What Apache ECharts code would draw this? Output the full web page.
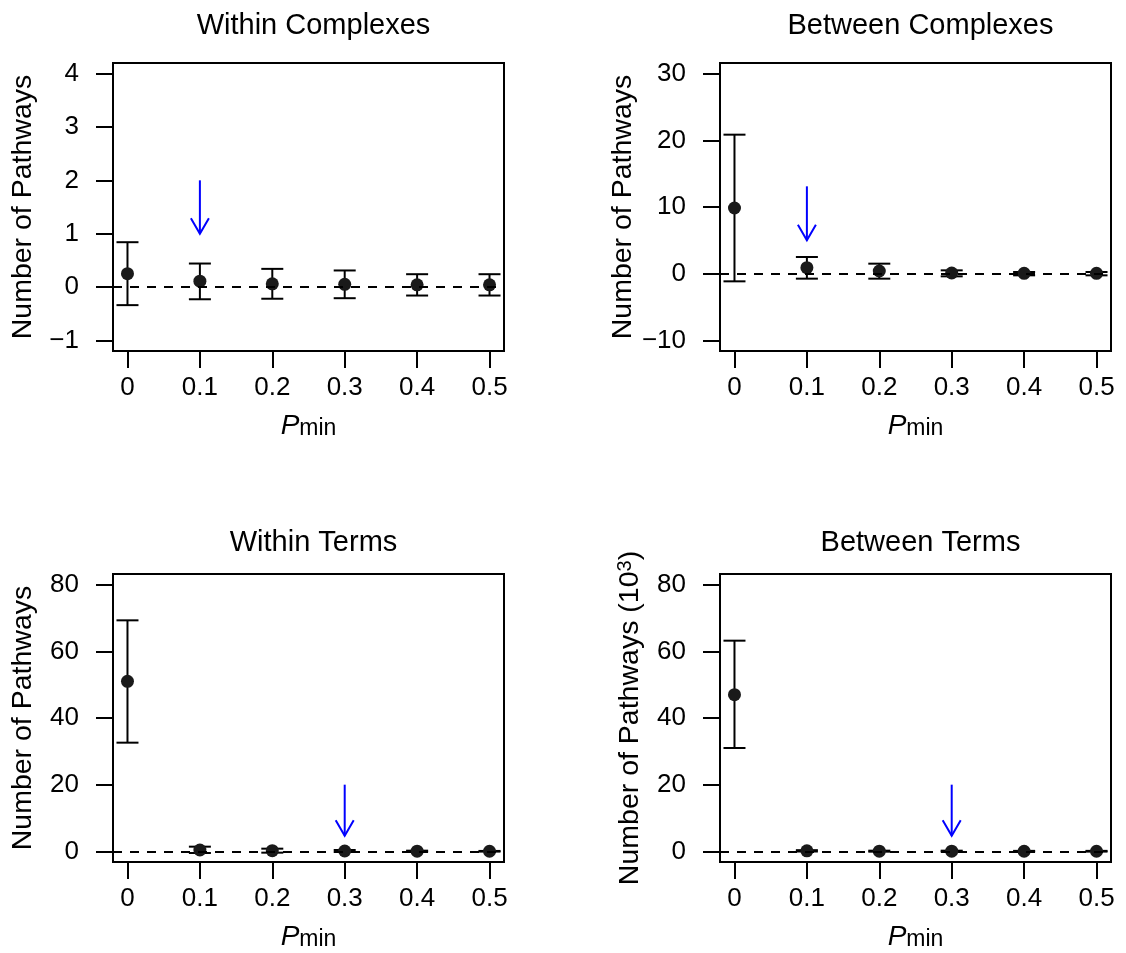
<!DOCTYPE html>
<html>
<head>
<meta charset="utf-8">
<script src="https://cdn.jsdelivr.net/npm/echarts@6/dist/echarts.min.js"></script>
<style>
html,body{margin:0;padding:0;background:#fff;}
#main{width:1126px;height:953px;}
</style>
</head>
<body>
<div id="main"></div>
<script>
// data
var pmin=[0,0.1,0.2,0.3,0.4,0.5];
var titles=['Within Complexes','Between Complexes','Within Terms','Between Terms'];

var wcMean=[0.25,0.11,0.06,0.05,0.04,0.04];
var wcLow=[-0.34,-0.23,-0.22,-0.21,-0.16,-0.16];
var wcHigh=[0.84,0.44,0.34,0.31,0.24,0.24];

var bcMean=[9.85,0.9,0.4,0.1,0.05,0.05];
var bcLow=[-1.15,-0.75,-0.75,-0.4,-0.25,-0.25];
var bcHigh=[20.85,2.5,1.5,0.5,0.25,0.25];

var wtMean=[51.0,0.4,0.2,0.1,0.05,0.02];
var wtLow=[32.6,-0.5,-0.4,-0.2,-0.1,-0.08];
var wtHigh=[69.3,1.4,0.8,0.4,0.2,0.12];

var btMean=[47.0,0.15,0.05,0.05,0.03,0.03];
var btLow=[31.0,-0.05,-0.1,-0.1,-0.08,-0.08];
var btHigh=[63.2,0.35,0.2,0.2,0.14,0.14];

// y ticks + y range per panel
var yTicks=[[-1,0,1,2,3,4],[-10,0,10,20,30],[0,20,40,60,80],[0,20,40,60,80]];
var yRange=[[-1.2,4.2],[-11.6,31.6],[-3.2,83.2],[-3.2,83.2]];

// blue arrows: [x, from, to]
var arrows=[[0.1,2.0,1.0],[0.1,13.1,5.0],[0.3,20,4.7],[0.3,20,4.7]];

var means=[wcMean,bcMean,wtMean,btMean];
var lows=[wcLow,bcLow,wtLow,btLow];
var highs=[wcHigh,bcHigh,wtHigh,btHigh];

var FONT='"Liberation Sans", Arial, Helvetica, sans-serif';
var boxes=[[113,63],[720,63],[113,574],[720,574]];
var titleOff=[-57,-57,-51,-51];
var BW=391,BH=288;

var myChart=echarts.init(document.getElementById('main'));

function minus(v){
	return v<0?'\u2212'+(-v):''+v;
}

function errRender(params,api){
	var x=api.value(0);
	var lo=api.coord([x,api.value(1)]);
	var hi=api.coord([x,api.value(2)]);
	var st={stroke:'#000',lineWidth:2};
	return {type:'group',children:[
		{type:'line',shape:{x1:hi[0],y1:hi[1],x2:lo[0],y2:lo[1]},style:st},
		{type:'line',shape:{x1:hi[0]-11,y1:hi[1],x2:hi[0]+11,y2:hi[1]},style:st},
		{type:'line',shape:{x1:lo[0]-11,y1:lo[1],x2:lo[0]+11,y2:lo[1]},style:st}
	]};
}

function arrowRender(params,api){
	var x=api.value(0);
	var a=api.coord([x,api.value(1)]);
	var b=api.coord([x,api.value(2)]);
	var st={stroke:'#0000ff',lineWidth:2,fill:null};
	return {type:'group',children:[
		{type:'line',shape:{x1:a[0],y1:a[1],x2:b[0],y2:b[1]},style:st},
		{type:'polyline',shape:{points:[[b[0]-9,b[1]-15.5],[b[0],b[1]],[b[0]+9,b[1]-15.5]]},style:st}
	]};
}

var grid=[],xAxis=[],yAxis=[],series=[],title=[];
for(var i=0;i<4;i++){
	var bx=boxes[i];
	grid.push({left:bx[0],top:bx[1],width:BW,height:BH,show:true,borderColor:'#000',borderWidth:2,backgroundColor:'transparent'});
	title.push({text:titles[i],left:bx[0]+BW/2,textAlign:'center',top:bx[1]+titleOff[i],
		textStyle:{fontFamily:FONT,fontSize:29,fontWeight:'normal',color:'#000'}});
	xAxis.push({type:'value',gridIndex:i,min:-0.02,max:0.52,
		name:'{p|P}{m|min}',nameLocation:'middle',nameGap:59,
		nameTextStyle:{rich:{
			p:{fontFamily:FONT,fontSize:28,fontStyle:'italic',color:'#000',lineHeight:30,verticalAlign:'bottom'},
			m:{fontFamily:FONT,fontSize:23,color:'#000',lineHeight:16,verticalAlign:'bottom'}
		}},
		axisLine:{show:false,onZero:false},splitLine:{show:false},
		axisTick:{show:true,inside:false,length:17,customValues:pmin,lineStyle:{color:'#000',width:2}},
		axisLabel:{customValues:pmin,fontFamily:FONT,fontSize:26,color:'#000',margin:24}
	});
	var yname=i==3?'{a|Number of Pathways (10}{s|3}{a|)}':'{a|Number of Pathways}';
	yAxis.push({type:'value',gridIndex:i,min:yRange[i][0],max:yRange[i][1],
		name:yname,nameLocation:'middle',nameGap:74,
		nameTextStyle:{rich:{
			a:{fontFamily:FONT,fontSize:28.5,color:'#000',lineHeight:31},
			s:{fontFamily:FONT,fontSize:20,color:'#000',lineHeight:14,verticalAlign:'top'}
		}},
		axisLine:{show:false,onZero:false},splitLine:{show:false},
		axisTick:{show:true,inside:false,length:17,customValues:yTicks[i],lineStyle:{color:'#000',width:2}},
		axisLabel:{customValues:yTicks[i],fontFamily:FONT,fontSize:26,color:'#000',margin:34,formatter:minus}
	});

	var ed=[],pd=[];
	for(var k=0;k<pmin.length;k++){
		ed.push([pmin[k],lows[i][k],highs[i][k]]);
		pd.push([pmin[k],means[i][k]]);
	}
	series.push({type:'custom',xAxisIndex:i,yAxisIndex:i,renderItem:errRender,data:ed,
		encode:{x:0,y:[1,2]},silent:true,z:2,
		markLine:{silent:true,symbol:'none',label:{show:false},
			lineStyle:{color:'#000',width:2,type:[9,8]},data:[{yAxis:0}]}});
	series.push({type:'scatter',xAxisIndex:i,yAxisIndex:i,data:pd,symbol:'circle',symbolSize:13,
		itemStyle:{color:'#1a1a1a',opacity:1},silent:true,z:3});
	series.push({type:'custom',xAxisIndex:i,yAxisIndex:i,renderItem:arrowRender,data:[arrows[i]],
		encode:{x:0,y:[1,2]},silent:true,z:4});
}

myChart.setOption({
	animation:false,
	backgroundColor:'#fff',
	title:title,
	grid:grid,
	xAxis:xAxis,
	yAxis:yAxis,
	series:series
});
</script>
</body>
</html>
